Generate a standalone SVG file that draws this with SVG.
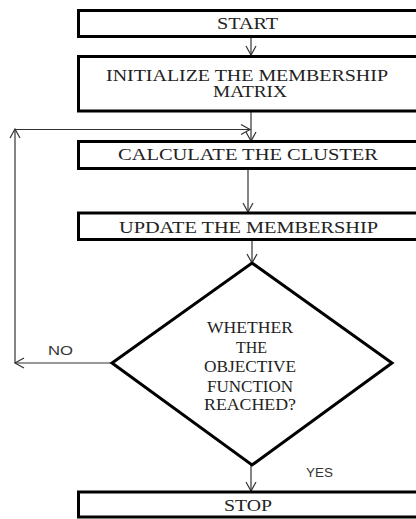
<svg xmlns="http://www.w3.org/2000/svg" width="416" height="519" viewBox="0 0 416 519">
<defs>
<style>
.box{fill:#fff;stroke:#000;stroke-width:3}
.t{font-family:"Liberation Serif","Times New Roman",serif;font-size:16px;fill:#222}
.lbl{font-family:"Liberation Sans",Arial,sans-serif;font-size:12px;fill:#333}
.c{fill:none;stroke:#333;stroke-width:1.2}
</style>
<marker id="ah" markerUnits="userSpaceOnUse" markerWidth="14" markerHeight="14" viewBox="-11 -7 14 14" refX="0" refY="0" orient="auto">
<path d="M-9,-5 L0,0 L-9,5" fill="none" stroke="#333" stroke-width="1.2"/>
</marker>
</defs>
<rect width="416" height="519" fill="#fff"/>
<g id="connectors">
<path class="c" d="M251,37 V55" marker-end="url(#ah)"/>
<path class="c" d="M251,112 V141" marker-end="url(#ah)"/>
<path class="c" d="M248,169 V212" marker-end="url(#ah)"/>
<path class="c" d="M252,240 V263" marker-end="url(#ah)"/>
<path class="c" d="M251,465 V491" marker-end="url(#ah)"/>
<path class="c" d="M112,363 H15" marker-end="url(#ah)"/>
<path class="c" d="M15,363 V129" marker-end="url(#ah)"/>
<path class="c" d="M15,129.5 H250" marker-end="url(#ah)"/>
<text class="lbl" x="48" y="355" textLength="25" lengthAdjust="spacingAndGlyphs">NO</text>
<text class="lbl" x="306" y="477" textLength="27" lengthAdjust="spacingAndGlyphs">YES</text>
</g>
<g id="start">
<rect class="box" x="78.5" y="10.5" width="360" height="26"/>
<text class="t" x="217" y="28.5" textLength="61" lengthAdjust="spacingAndGlyphs">START</text>
</g>
<g id="init">
<rect class="box" x="78.5" y="56.5" width="360" height="54.5"/>
<text class="t" x="106" y="81" textLength="282" lengthAdjust="spacingAndGlyphs">INITIALIZE THE MEMBERSHIP</text>
<text class="t" x="213" y="97" textLength="74" lengthAdjust="spacingAndGlyphs">MATRIX</text>
</g>
<g id="calc">
<rect class="box" x="78.5" y="141.5" width="360" height="27"/>
<text class="t" x="118" y="160" textLength="260" lengthAdjust="spacingAndGlyphs">CALCULATE THE CLUSTER</text>
</g>
<g id="update">
<rect class="box" x="78.5" y="213" width="360" height="26.5"/>
<text class="t" x="119" y="232.5" textLength="259" lengthAdjust="spacingAndGlyphs">UPDATE THE MEMBERSHIP</text>
</g>
<g id="decision">
<polygon class="box" points="252,263 392,363 252,465 112,363"/>
<text class="t" x="207" y="333" textLength="86" lengthAdjust="spacingAndGlyphs">WHETHER</text>
<text class="t" x="236" y="353" textLength="31" lengthAdjust="spacingAndGlyphs">THE</text>
<text class="t" x="204" y="372" textLength="92" lengthAdjust="spacingAndGlyphs">OBJECTIVE</text>
<text class="t" x="207" y="392" textLength="86" lengthAdjust="spacingAndGlyphs">FUNCTION</text>
<text class="t" x="204" y="410" textLength="92" lengthAdjust="spacingAndGlyphs">REACHED?</text>
</g>
<g id="stop">
<rect class="box" x="78.5" y="492" width="360" height="25"/>
<text class="t" x="224" y="511" textLength="48" lengthAdjust="spacingAndGlyphs">STOP</text>
</g>
</svg>
